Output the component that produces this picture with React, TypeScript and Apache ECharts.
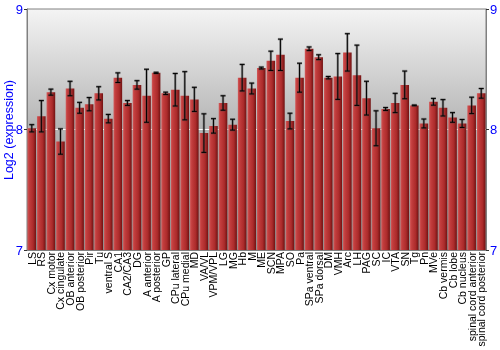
import React, { useEffect, useRef } from "react";
import * as echarts from "echarts";

const categories = [
  "LS", "RS", "Cx motor", "Cx cingulate", "OB anterior", "OB posterior", "Pir", "Tu",
  "ventral S", "CA1", "CA2/CA3", "DG", "A anterior", "A posterior", "GP", "CPu lateral",
  "CPu medial", "MD", "VA/VL", "VPM/VPL", "LG", "MG", "Hb", "M", "ME", "SCN", "MPA", "SO",
  "Pa", "SPa ventral", "SPa dorsal", "DM", "VMH", "Arc", "LH", "PAG", "SC", "IC", "VTA",
  "SN", "Tg", "Pn", "MVe", "Cb vermis", "Cb lobe", "Cb nucleus", "spinal cord anterior",
  "spinal cord posterior",
];

const values = [
  8.01, 8.11, 8.31, 7.9, 8.34, 8.18, 8.21, 8.3, 8.09, 8.43, 8.22, 8.37, 8.28, 8.47, 8.3, 8.33,
  8.28, 8.25, 7.97, 8.03, 8.22, 8.04, 8.43, 8.34, 8.51, 8.57, 8.62, 8.07, 8.43, 8.67, 8.6,
  8.43, 8.44, 8.64, 8.45, 8.26, 8.01, 8.17, 8.22, 8.37, 8.2, 8.05, 8.23, 8.18, 8.1, 8.05,
  8.2, 8.3,
];

const errors = [
  0.03, 0.13, 0.025, 0.105, 0.06, 0.045, 0.055, 0.055, 0.035, 0.04, 0.02, 0.035, 0.22, 0.005,
  0.01, 0.135, 0.2, 0.1, 0.16, 0.06, 0.06, 0.045, 0.11, 0.045, 0.008, 0.08, 0.13, 0.065, 0.12,
  0.015, 0.02, 0.01, 0.19, 0.155, 0.25, 0.14, 0.145, 0.012, 0.08, 0.115, 0.003, 0.037, 0.028,
  0.068, 0.04, 0.033, 0.068, 0.04,
];

const yTicks = { min: 7, max: 9, interval: 1 };
const yTitle = "Log2 (expression)";

export default function App() {
  const ref = useRef<HTMLDivElement>(null);

  useEffect(() => {
    if (!ref.current) return;
    const chart = echarts.init(ref.current, null, { renderer: "svg" });
    const font = "'Liberation Sans', Arial, sans-serif";
    const blue = "#0000ff";
    const axisGrey = "#808080";

    const yBase = {
      type: "value" as const,
      min: yTicks.min,
      max: yTicks.max,
      interval: yTicks.interval,
      axisLabel: { color: blue, fontSize: 13, fontFamily: font, margin: 4 },
      axisTick: { show: true, length: 3, lineStyle: { color: "#333" } },
      axisLine: { show: true, lineStyle: { color: axisGrey } },
    };

    chart.setOption({
      animation: false,
      grid: {
        left: 27,
        right: 14,
        top: 9,
        bottom: 100,
        containLabel: false,
        outerBoundsMode: "none",
        show: true,
        borderColor: axisGrey,
        borderWidth: 1,
        backgroundColor: new echarts.graphic.LinearGradient(0, 0, 0, 1, [
          { offset: 0, color: "#f4f4f4" },
          { offset: 0.5, color: "#b4b4b4" },
          { offset: 1, color: "#909090" },
        ]),
      },
      graphic: [
        {
          type: "text",
          x: 9,
          y: 130,
          rotation: Math.PI / 2,
          style: {
            text: yTitle,
            fill: blue,
            fontSize: 12.5,
            fontFamily: font,
            align: "center",
            verticalAlign: "middle",
          },
        },
      ],
      xAxis: {
        type: "category",
        data: categories,
        axisLabel: {
          rotate: 90,
          interval: 0,
          fontSize: 10.5,
          color: "#000",
          fontFamily: font,
          margin: 2,
        },
        axisTick: { show: false },
        axisLine: { show: true, lineStyle: { color: axisGrey } },
      },
      yAxis: [
        {
          ...yBase,
          position: "left",
          splitLine: {
            show: true,
            lineStyle: { color: ["rgba(0,0,0,0)", "#ffffff", "rgba(0,0,0,0)"], width: 1 },
          },
        },
        {
          ...yBase,
          position: "right",
          splitLine: { show: false },
        },
      ],
      series: [
        {
          type: "bar",
          data: values,
          barCategoryGap: "10%",
          itemStyle: {
            color: new echarts.graphic.LinearGradient(0, 0, 1, 0, [
              { offset: 0, color: "#d25a5a" },
              { offset: 0.2, color: "#c33e3e" },
              { offset: 0.65, color: "#ac2b2b" },
              { offset: 1, color: "#701212" },
            ]),
          },
        },
        {
          type: "custom",
          z: 5,
          data: values.map((v, i) => [i, v - errors[i], v + errors[i]]),
          encode: { x: 0, y: [1, 2] },
          renderItem: (params: any, api: any) => {
            const x = api.value(0);
            const lo = api.coord([x, api.value(1)]);
            const hi = api.coord([x, api.value(2)]);
            const cap = 2.5;
            const mk = (color: string, w: number) => [
              { type: "line", shape: { x1: lo[0], y1: lo[1], x2: hi[0], y2: hi[1] }, style: { stroke: color, lineWidth: w } },
              { type: "line", shape: { x1: lo[0] - cap, y1: lo[1], x2: lo[0] + cap, y2: lo[1] }, style: { stroke: color, lineWidth: w } },
              { type: "line", shape: { x1: hi[0] - cap, y1: hi[1], x2: hi[0] + cap, y2: hi[1] }, style: { stroke: color, lineWidth: w } },
            ];
            return {
              type: "group",
              children: [...mk("rgba(70,70,70,0.45)", 2.5), ...mk("#000", 1)],
            };
          },
        },
      ],
    });
    return () => chart.dispose();
  }, []);

  return (
    <div
      ref={ref}
      style={{ position: "fixed", left: 0, top: 0, width: 500, height: 350 }}
    />
  );
}
